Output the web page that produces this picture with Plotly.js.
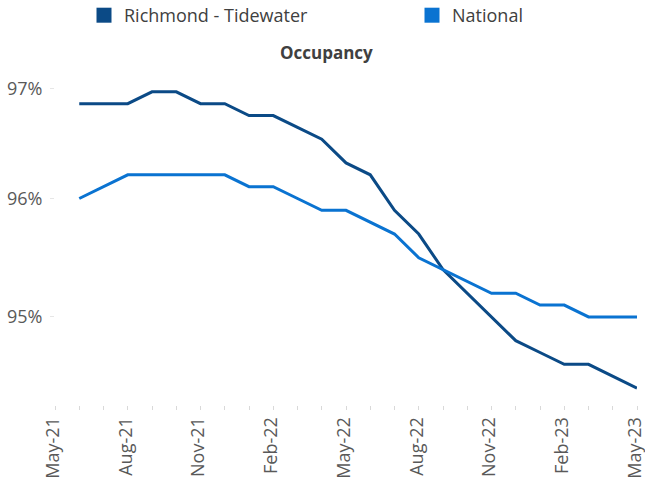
<!DOCTYPE html>
<html>
<head>
<meta charset="utf-8">
<script src="https://cdn.plot.ly/plotly-3.0.1.min.js"></script>
<style>html,body{margin:0;padding:0;background:#fff;}#chart{width:645px;height:480px;}</style>
</head>
<body>
<div id="chart"></div>
<script>
// Axis months (May-21 .. May-23)
const months = ['May-21','Jun-21','Jul-21','Aug-21','Sep-21','Oct-21','Nov-21','Dec-21',
  'Jan-22','Feb-22','Mar-22','Apr-22','May-22','Jun-22','Jul-22','Aug-22','Sep-22','Oct-22',
  'Nov-22','Dec-22','Jan-23','Feb-23','Mar-23','Apr-23','May-23'];
// Data months (Jun-21 .. May-23)
const dataMonths = months.slice(1);
const richmondTidewater = [96.8,96.8,96.8,96.9,96.9,96.8,96.8,96.7,96.7,96.6,96.5,96.3,
  96.2,95.9,95.7,95.4,95.2,95.0,94.8,94.7,94.6,94.6,94.5,94.4];
const national = [96.0,96.1,96.2,96.2,96.2,96.2,96.2,96.1,96.1,96.0,95.9,95.9,
  95.8,95.7,95.5,95.4,95.3,95.2,95.2,95.1,95.1,95.0,95.0,95.0];
const seriesNames = ['Richmond - Tidewater','National'];
const seriesColors = ['#0b4a86','#0a73d1'];
const yTickValues = [97,96,95];
const yTickText = ['97%','96%','95%'];

const font = 'Open Sans, Noto Sans, sans-serif';
const traces = [
  {x: dataMonths, y: richmondTidewater, type:'scatter', mode:'lines', name: seriesNames[0],
   line:{color: seriesColors[0], width:3}, showlegend:false},
  {x: dataMonths, y: national, type:'scatter', mode:'lines', name: seriesNames[1],
   line:{color: seriesColors[1], width:3}, showlegend:false},
  // legend swatches (square keys)
  {x:[null], y:[null], type:'scatter', mode:'markers', name: seriesNames[0], legend:'legend',
   marker:{symbol:'square', size:15, color: seriesColors[0]}},
  {x:[null], y:[null], type:'scatter', mode:'markers', name: seriesNames[1], legend:'legend2',
   marker:{symbol:'square', size:15, color: seriesColors[1]}}
];

const plotL = 55, plotW = 582, plotB = 405, plotH = 325;
const legendFont = {family:font, size:18, color:'#404040'};
const layout = {
  width:645, height:480,
  margin:{l:plotL, r:645-plotL-plotW, t:plotB-plotH, b:480-plotB, autoexpand:false},
  paper_bgcolor:'#fff', plot_bgcolor:'#fff',
  font:{family:font, color:'#595959', size:18},
  title:{text:'<b>Occupancy</b>', font:{family:font, size:17, color:'#404040'},
         x:0.506, xanchor:'center', y:1-53/480, yanchor:'middle'},
  showlegend:true,
  legend:{orientation:'h', x:(84-plotL)/plotW, xanchor:'left', y:(plotB+3)/plotH, yanchor:'top',
          font:legendFont, bgcolor:'rgba(0,0,0,0)'},
  legend2:{orientation:'h', x:(412-plotL)/plotW, xanchor:'left', y:(plotB+3)/plotH, yanchor:'top',
          font:legendFont, bgcolor:'rgba(0,0,0,0)'},
  xaxis:{type:'category', categoryarray: months, categoryorder:'array',
         range:[0, months.length-1], showgrid:false, zeroline:false, showline:false,
         tickmode:'array', tickvals: months,
         ticktext: months.map((m,i)=> i%3===0 ? m : ''),
         tickangle:-90, ticks:'outside', ticklen:4, tickcolor:'#d9d9d9', tickwidth:1,
         ticklabelshift:-2,
         tickfont:{family:font, size:18, color:'#595959'}, fixedrange:true},
  yaxis:{range:[94.257, 97], showgrid:false, zeroline:false, showline:false,
         tickmode:'array',
         tickvals: yTickValues.map(v => v === 97 ? v - 0.07 : v),
         ticktext: yTickText,
         ticks:'outside', ticklen:4, tickcolor:'#e6e6e6', ticklabelstandoff:4,
         tickfont:{family:font, size:18, color:'#595959'}, fixedrange:true}
};

Plotly.newPlot('chart', traces, layout, {displayModeBar:false, staticPlot:true});
</script>
</body>
</html>
